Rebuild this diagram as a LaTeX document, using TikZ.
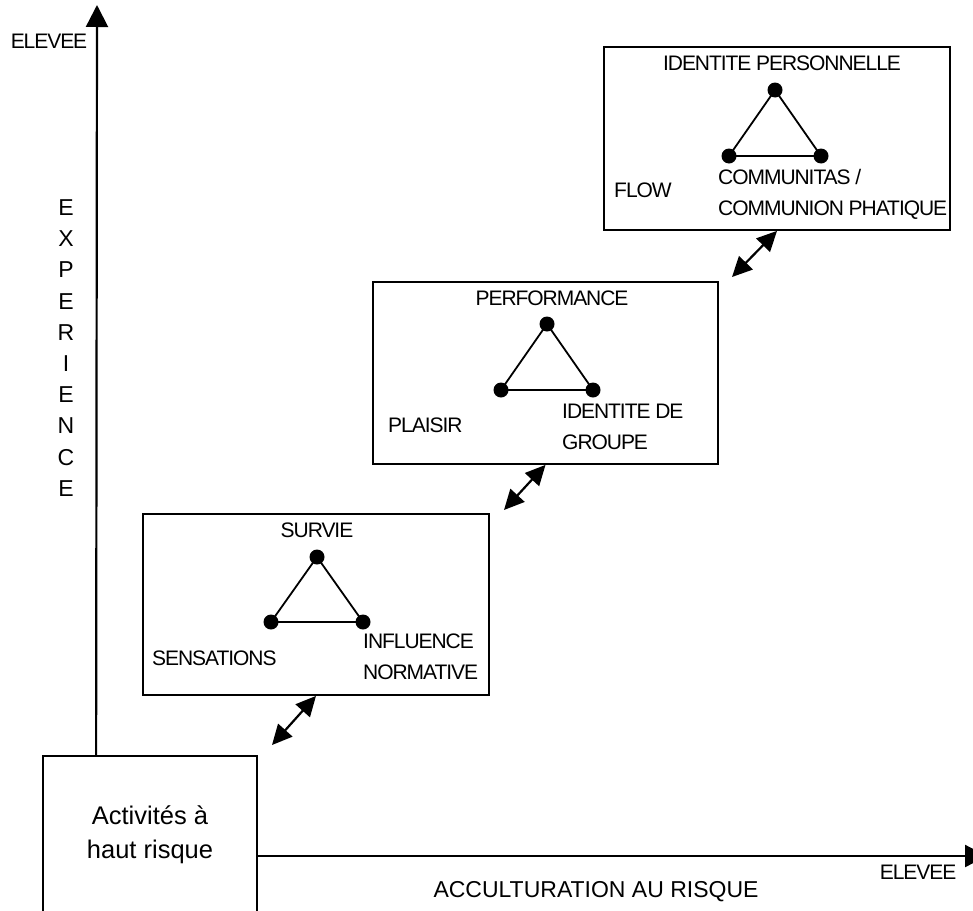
\documentclass[tikz,border=0pt]{standalone}
\usepackage{fontspec}
\setmainfont{Liberation Sans}
\newfontfamily\tightsans[LetterSpace=-5]{Liberation Sans}
\usetikzlibrary{arrows.meta}
\begin{document}
\begin{tikzpicture}[x=1pt,y=-1pt,
  frame/.style={draw, line width=1.8pt, inner sep=0pt},
  dot/.style={circle, fill, inner sep=0pt, minimum size=15pt},
  tri/.style={line width=1.8pt},
  lab/.style={font=\tightsans\fontsize{21}{31}\selectfont, inner sep=0pt},
  biglab/.style={font=\fontsize{23}{31.2}\selectfont, inner sep=0pt},
  axis/.style={line width=2.2pt, -{Triangle[length=22pt,width=22pt]}},
  link/.style={line width=2.2pt, {Triangle[length=20pt,width=19pt]}-{Triangle[length=20pt,width=19pt]}},
]
\useasboundingbox (0,0) rectangle (973,910);
\clip (0,0) rectangle (973,910);

% starting box and axes
\node[frame, minimum width=214pt, minimum height=200pt] (act) at (150,856) {};
\node[inner sep=0pt, align=center, font=\fontsize{25.5}{34}\selectfont] (acttext) at (150,835) {Activités à\\haut risque};
\coordinate (ytip) at (97,5);
\coordinate (xtip) at (987,856);
\draw[axis] ([xshift=54pt]act.north west) -- (ytip);
\draw[axis] (act.east) -- (xtip);

% axis labels
\node[lab] (ytop) at (49,41) {ELEVEE};
\node[lab] (xend) at (918,872) {ELEVEE};
\node[biglab, align=center] (ylab) at (66,348) {E\\X\\P\\E\\R\\I\\E\\N\\C\\E};
\node[font=\fontsize{23}{26}\selectfont, inner sep=0pt] (xlab) at (596,892) {ACCULTURATION AU RISQUE};

% level 1
\node[frame, minimum width=346pt, minimum height=181pt] (b1) at (316,604.5) {};
\node[lab] (t1) at (317,530) {SURVIE};
\node[dot] (p1a) at (317,557) {};
\node[dot] (p1b) at (271,622) {};
\node[dot] (p1c) at (363,622) {};
\draw[tri] (p1a.center) -- (p1b.center) -- (p1c.center) -- cycle;
\node[lab, anchor=west] (s1) at (152,658) {SENSATIONS};
\node[lab, anchor=west, align=left] (n1) at (363,657) {INFLUENCE\\NORMATIVE};

% level 2
\node[frame, minimum width=345pt, minimum height=182pt] (b2) at (545.5,373) {};
\node[lab] (t2) at (552,298) {PERFORMANCE};
\node[dot] (p2a) at (547,324) {};
\node[dot] (p2b) at (501,390) {};
\node[dot] (p2c) at (593,390) {};
\draw[tri] (p2a.center) -- (p2b.center) -- (p2c.center) -- cycle;
\node[lab, anchor=west] (s2) at (388,425) {PLAISIR};
\node[lab, anchor=west, align=left] (n2) at (562,427) {IDENTITE DE\\GROUPE};

% level 3
\node[frame, minimum width=346pt, minimum height=183pt] (b3) at (777,138.5) {};
\node[lab] (t3) at (782,63) {IDENTITE PERSONNELLE};
\node[dot] (p3a) at (775,90) {};
\node[dot] (p3b) at (729,156) {};
\node[dot] (p3c) at (821,156) {};
\draw[tri] (p3a.center) -- (p3b.center) -- (p3c.center) -- cycle;
\node[lab, anchor=west] (s3) at (614,190) {FLOW};
\node[lab, anchor=west, align=left] (n3) at (718,194) {COMMUNITAS /\\COMMUNION PHATIQUE};

% links between levels
\coordinate (l1) at (272,745);
\coordinate (l2) at (504,510);
\coordinate (l3) at (732,277);
\draw[link] (b1.south) -- (l1);
\draw[link] (b2.south) -- (l2);
\draw[link] (b3.south) -- (l3);
\end{tikzpicture}
\end{document}
